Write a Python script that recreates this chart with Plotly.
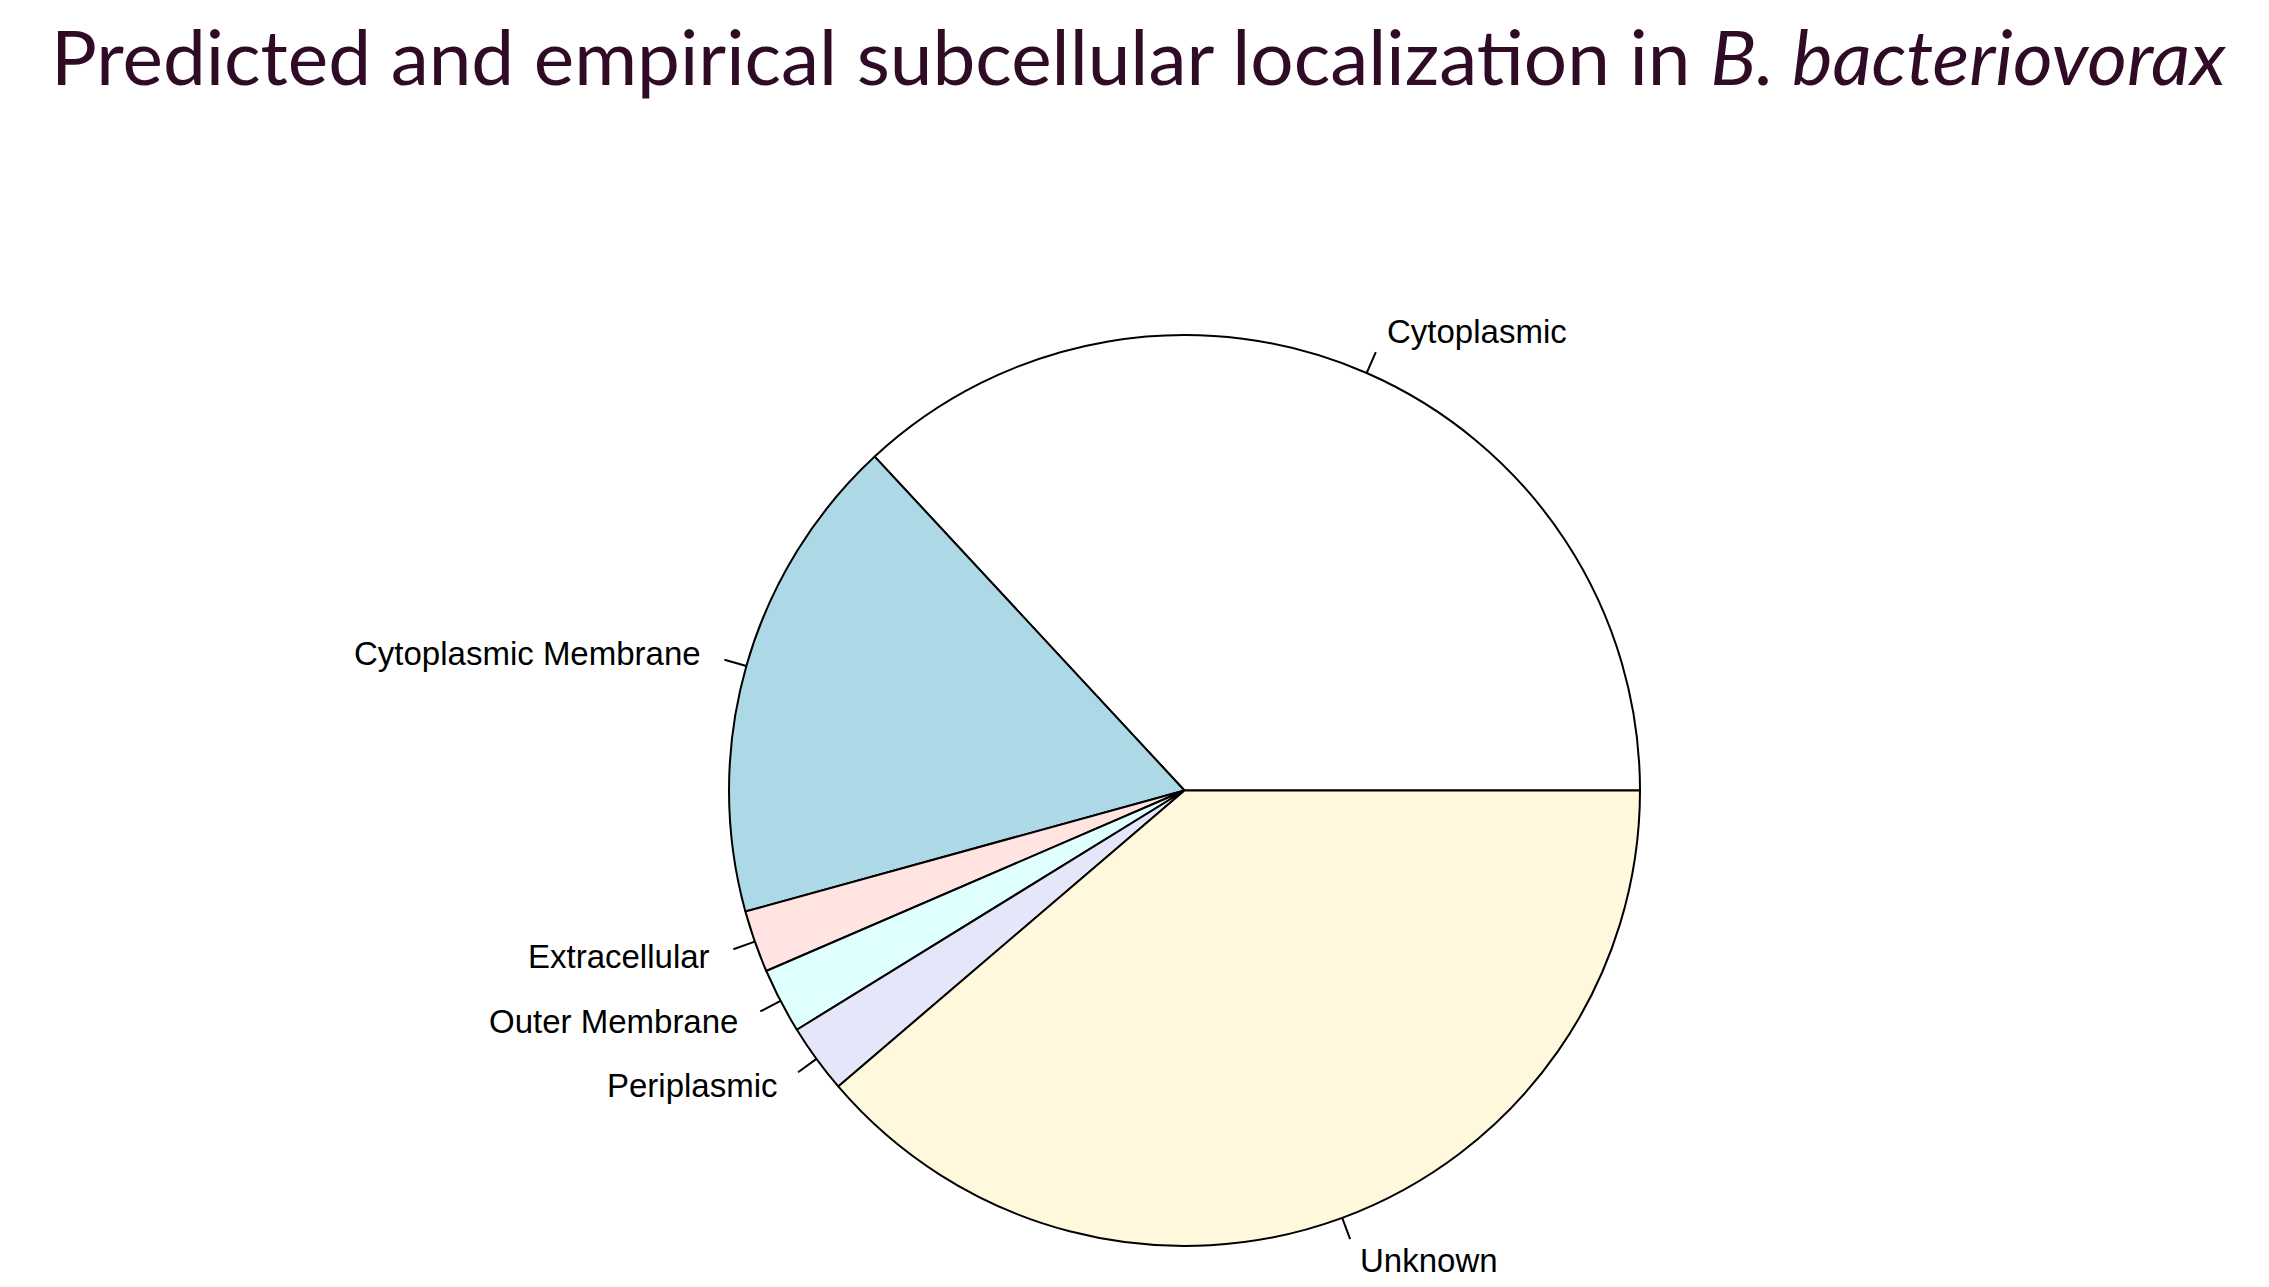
import math
import plotly.graph_objects as go

# Subcellular localization counts (R pie order, counterclockwise from 3 o'clock)
labels = ["Cytoplasmic", "Cytoplasmic Membrane", "Extracellular",
          "Outer Membrane", "Periplasmic", "Unknown"]
counts = [1323, 623, 79, 83, 88, 1389]
colors = ["#FFFFFF", "#ADD8E6", "#FFE4E1", "#E0FFFF", "#E6E6FA", "#FFF8DC"]

W, H = 2269, 1287
OFF = 8  # page body margin
cx, cy, R = 1184.5 - OFF, 790.5 - OFF, 455.5   # pie centre / radius in px


def px(x, y):
    return x / W, 1 - y / H


total = sum(counts)
# plotly's counterclockwise pies put the first slice behind the rotation line
rot = 90 - 360 * counts[0] / total

fig = go.Figure()
fig.add_trace(go.Pie(
    labels=labels, values=counts, sort=False,
    direction="counterclockwise", rotation=rot,
    marker=dict(colors=colors, line=dict(color="black", width=2)),
    textinfo="none", hoverinfo="label+value", showlegend=False,
    domain=dict(x=[(cx - R) / W, (cx + R) / W],
                y=[(H - cy - R) / H, (H - cy + R) / H]),
))

# R style tick marks + labels at mid angles
cum = 0
shapes, annotations = [], []
for lab, v in zip(labels, counts):
    mid = 2 * math.pi * (cum + v / 2) / total
    cum += v
    c, s = math.cos(mid), math.sin(mid)
    x0, y0 = px(cx + R * c, cy - R * s)
    x1, y1 = px(cx + 1.05 * R * c, cy - 1.05 * R * s)
    shapes.append(dict(type="line", xref="paper", yref="paper",
                       x0=x0, y0=y0, x1=x1, y1=y1,
                       line=dict(color="black", width=2)))
    tx, ty = px(cx + 1.1 * R * c, cy - 1.1 * R * s)
    annotations.append(dict(x=tx, y=ty, xref="paper", yref="paper", text=lab,
                            showarrow=False, xanchor="left" if c > 0 else "right",
                            yanchor="middle",
                            font=dict(family="Liberation Sans, Arial", size=33, color="black")))

annotations.append(dict(
    x=(1138 - OFF) / W, y=1, xref="paper", yref="paper", showarrow=False,
    text="Predicted and empirical subcellular localization in <i>B. bacteriovorax</i>",
    xanchor="center", yanchor="top", borderpad=0,
    font=dict(family="Lato", size=76.5, color="#2F0B26")))

fig.update_layout(
    width=W, height=H, margin=dict(l=0, r=0, t=0, b=0),
    paper_bgcolor="white", plot_bgcolor="white",
    shapes=shapes, annotations=annotations,
)

fig.write_html("out.html")
